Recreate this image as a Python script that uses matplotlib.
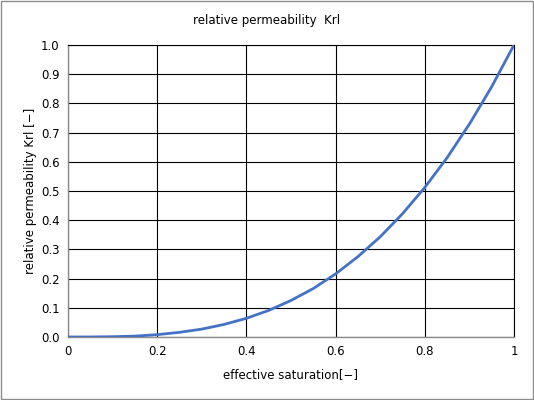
import matplotlib
matplotlib.use("Agg")
import matplotlib.pyplot as plt
from matplotlib.patches import Rectangle

# effective saturation vs relative permeability
saturation = [0.0, 0.05, 0.1, 0.15, 0.2, 0.25, 0.3, 0.35, 0.4, 0.45, 0.5,
              0.55, 0.6, 0.65, 0.7, 0.75, 0.8, 0.85, 0.9, 0.95, 1.0]
krl = [0.0, 0.0001, 0.001, 0.003, 0.008, 0.016, 0.027, 0.043, 0.064, 0.091,
       0.125, 0.166, 0.216, 0.275, 0.343, 0.422, 0.512, 0.614, 0.729, 0.857,
       1.0]
x_ticks = [0, 0.2, 0.4, 0.6, 0.8, 1]
x_labels = ["0", "0.2", "0.4", "0.6", "0.8", "1"]
y_ticks = [0.0, 0.1, 0.2, 0.3, 0.4, 0.5, 0.6, 0.7, 0.8, 0.9, 1.0]

plt.rcParams["font.family"] = ["DejaVu Sans"]

fig = plt.figure(figsize=(5.34, 4.0), dpi=100)
# outer chart border, like the spreadsheet chart frame
fig.patches.append(Rectangle((0.001, 0.002), 0.997, 0.995, transform=fig.transFigure,
                             fill=False, edgecolor="#8c8c8c", linewidth=1))

ax = fig.add_axes([0.1273, 0.1575, 0.8352, 0.73])
ax.plot(saturation, krl, color="#4472C4", linewidth=2.0, zorder=3)

ax.set_xlim(0, 1)
ax.set_ylim(0, 1)
ax.set_xticks(x_ticks)
ax.set_xticklabels(x_labels)
ax.set_yticks(y_ticks)
ax.set_yticklabels([f"{v:.1f}" for v in y_ticks])
ax.tick_params(length=0, labelsize=8.5, pad=6, colors="black")
ax.grid(True, color="black", linewidth=0.8)

for side in ("top", "right"):
    ax.spines[side].set_color("black")
    ax.spines[side].set_linewidth(0.8)
for side in ("left", "bottom"):
    ax.spines[side].set_color("#8c8c8c")
    ax.spines[side].set_linewidth(1)

ax.set_xlabel("effective saturation[−]", fontsize=8.5, labelpad=7)
ax.set_ylabel("relative permeability Krl [−]", fontsize=8.5, labelpad=3)
fig.text(0.5, 0.948, "relative permeability  Krl", ha="center", va="center",
         fontsize=8.5)

fig.savefig("out.png", dpi=100)
